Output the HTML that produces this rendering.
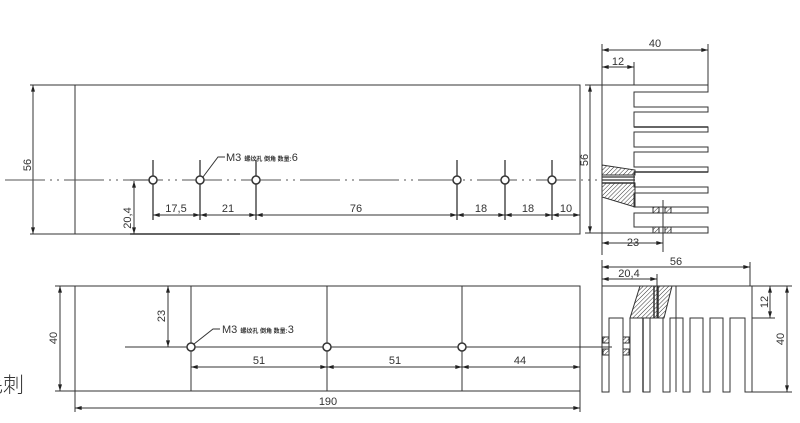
<!DOCTYPE html>
<html><head><meta charset="utf-8"><style>
html,body{margin:0;padding:0;background:#fff;}
svg{display:block;}
text{font-family:"Liberation Sans","Noto Sans CJK SC",sans-serif;fill:#333;}
</style></head><body>
<svg width="800" height="423" viewBox="0 0 800 423" xmlns="http://www.w3.org/2000/svg">
<defs>
<marker id="a" viewBox="0 0 10 6" refX="10" refY="3" markerWidth="8" markerHeight="4" orient="auto-start-reverse"><path d="M0,0L10,3L0,6z" fill="#222"/></marker>
<pattern id="h" width="3" height="3" patternUnits="userSpaceOnUse" patternTransform="rotate(45)"><line x1="0" y1="0" x2="0" y2="3" stroke="#333" stroke-width="1"/></pattern>
</defs>
<g stroke="#333" stroke-width="1" fill="none">
<!-- TOP VIEW -->
<rect x="75" y="85" width="505" height="149"/>
<line x1="30" y1="85" x2="75" y2="85"/><line x1="30" y1="234" x2="75" y2="234"/>
<line x1="33" y1="85" x2="33" y2="234" marker-start="url(#a)" marker-end="url(#a)"/>
<line x1="5" y1="180" x2="597" y2="180" stroke="#555" stroke-dasharray="40,5,2,5,2,5"/>
<g stroke-width="1.3">
<line x1="153" y1="160" x2="153" y2="220"/><line x1="200" y1="160" x2="200" y2="220"/><line x1="256" y1="160" x2="256" y2="220"/>
<line x1="457" y1="160" x2="457" y2="220"/><line x1="505" y1="160" x2="505" y2="220"/><line x1="552" y1="160" x2="552" y2="220"/>
</g>
<g stroke-width="1.5" fill="#fff">
<circle cx="153" cy="180" r="4"/><circle cx="200" cy="180" r="4"/><circle cx="256" cy="180" r="4"/>
<circle cx="457" cy="180" r="4"/><circle cx="505" cy="180" r="4"/><circle cx="552" cy="180" r="4"/>
</g>
<line x1="153" y1="215" x2="200" y2="215" marker-start="url(#a)" marker-end="url(#a)"/>
<line x1="200" y1="215" x2="256" y2="215" marker-start="url(#a)" marker-end="url(#a)"/>
<line x1="256" y1="215" x2="457" y2="215" marker-start="url(#a)" marker-end="url(#a)"/>
<line x1="457" y1="215" x2="505" y2="215" marker-start="url(#a)" marker-end="url(#a)"/>
<line x1="505" y1="215" x2="552" y2="215" marker-start="url(#a)" marker-end="url(#a)"/>
<line x1="552" y1="215" x2="580" y2="215" marker-start="url(#a)" marker-end="url(#a)"/>
<line x1="130" y1="180" x2="150" y2="180"/>
<line x1="134" y1="181" x2="134" y2="234" marker-start="url(#a)" marker-end="url(#a)"/>
<line x1="130" y1="234" x2="240" y2="234" stroke-width="1.4"/>
<polyline points="203,177 218,157 225,157"/>

<!-- TOP RIGHT SIDE VIEW -->
<line x1="602" y1="44" x2="602" y2="255"/>
<line x1="708" y1="44" x2="708" y2="85"/>
<line x1="634" y1="62" x2="634" y2="85"/>
<line x1="602" y1="50" x2="708" y2="50" marker-start="url(#a)" marker-end="url(#a)"/>
<line x1="602" y1="67" x2="634" y2="67" marker-start="url(#a)" marker-end="url(#a)"/>
<line x1="585" y1="85" x2="602" y2="85"/><line x1="585" y1="233" x2="602" y2="233"/>
<line x1="590" y1="85" x2="590" y2="233" marker-start="url(#a)" marker-end="url(#a)"/>
<path d="M602,85 H708 V92 H634 V107 H708 V112 H634 V127 H708 V132 H634 V147 H708 V152 H634 V167 H708 V172 H634 V187 H708 V193 H634 V207 H708 V213 H634 V227 H708 V233 H602"/>
<polygon points="602,165 635,170 635,175 602,175" fill="url(#h)" stroke="#333"/>
<polygon points="602,183 635,183 635,207 602,197" fill="url(#h)" stroke="#333"/>
<line x1="602" y1="177" x2="635" y2="177" stroke-width="1.2"/>
<line x1="602" y1="180" x2="635" y2="180" stroke-width="1.2"/>
<line x1="602" y1="183" x2="635" y2="183" stroke-width="1.5"/>
<line x1="634" y1="172" x2="708" y2="172" stroke-width="1.5"/>
<line x1="634" y1="127" x2="708" y2="127" stroke-width="1.5"/>
<line x1="663" y1="200" x2="663" y2="252"/>
<rect x="653" y="207" width="6" height="6" fill="url(#h)"/><rect x="665" y="207" width="6" height="6" fill="url(#h)"/>
<rect x="653" y="227" width="6" height="6" fill="url(#h)"/><rect x="665" y="227" width="6" height="6" fill="url(#h)"/>
<line x1="602" y1="243" x2="663" y2="243" marker-start="url(#a)" marker-end="url(#a)"/>

<!-- BOTTOM RIGHT VIEW -->
<line x1="602" y1="260" x2="602" y2="392"/>
<line x1="750" y1="262" x2="750" y2="286"/>
<line x1="657" y1="274" x2="657" y2="318"/>
<line x1="602" y1="267" x2="750" y2="267" marker-start="url(#a)" marker-end="url(#a)"/>
<line x1="602" y1="279" x2="657" y2="279" marker-start="url(#a)" marker-end="url(#a)"/>
<line x1="602" y1="286" x2="792" y2="286"/>
<path d="M602,286 V392 H609 V318 H623 V392 H630 V318 H643 V392 H650 V318 H663 V392 H670 V318 H683 V392 H690 V318 H703 V392 H710 V318 H723 V392 H730 V318 H745 V392 H752 V286"/>
<line x1="752" y1="318" x2="775" y2="318"/><line x1="752" y1="392" x2="792" y2="392"/>
<line x1="770" y1="286" x2="770" y2="318" marker-start="url(#a)" marker-end="url(#a)"/>
<line x1="787" y1="286" x2="787" y2="392" marker-start="url(#a)" marker-end="url(#a)"/>
<polygon points="640,286 672,286 664,318 630,318" fill="url(#h)"/>
<line x1="654" y1="286" x2="654" y2="318" stroke-width="1.5"/><line x1="658" y1="286" x2="658" y2="318" stroke-width="1.5"/>
<line x1="643" y1="318" x2="643" y2="392" stroke-width="1.4"/>
<line x1="676" y1="286" x2="676" y2="392"/>
<rect x="603" y="337" width="6" height="6" fill="url(#h)"/><rect x="603" y="349" width="6" height="6" fill="url(#h)"/>
<rect x="623" y="337" width="6" height="6" fill="url(#h)"/><rect x="623" y="349" width="6" height="6" fill="url(#h)"/>

<!-- BOTTOM LEFT VIEW -->
<rect x="75" y="286" width="505" height="105"/>
<line x1="55" y1="286" x2="75" y2="286"/><line x1="55" y1="391" x2="75" y2="391"/>
<line x1="60" y1="286" x2="60" y2="391" marker-start="url(#a)" marker-end="url(#a)"/>
<line x1="191" y1="286" x2="191" y2="391"/><line x1="327" y1="286" x2="327" y2="391"/><line x1="462" y1="286" x2="462" y2="391"/>
<line x1="125" y1="347" x2="612" y2="347"/>
<g stroke-width="1.5" fill="#fff"><circle cx="191" cy="347" r="4"/><circle cx="327" cy="347" r="4"/><circle cx="462" cy="347" r="4"/></g>
<line x1="165" y1="286" x2="191" y2="286"/>
<line x1="168" y1="286" x2="168" y2="347" marker-start="url(#a)" marker-end="url(#a)"/>
<line x1="191" y1="367" x2="327" y2="367" marker-start="url(#a)" marker-end="url(#a)"/>
<line x1="327" y1="367" x2="462" y2="367" marker-start="url(#a)" marker-end="url(#a)"/>
<line x1="462" y1="367" x2="580" y2="367" marker-start="url(#a)" marker-end="url(#a)"/>
<line x1="75" y1="391" x2="75" y2="412"/><line x1="580" y1="391" x2="580" y2="412"/>
<line x1="75" y1="408" x2="580" y2="408" marker-start="url(#a)" marker-end="url(#a)"/>
<polyline points="194,344 213,329 220,329"/>
</g>

<g font-size="11" text-anchor="middle">
<text x="31" y="165" transform="rotate(-90 31 165)">56</text>
<text x="176" y="212">17,5</text><text x="228" y="212">21</text><text x="356" y="212">76</text>
<text x="481" y="212">18</text><text x="528" y="212">18</text><text x="566" y="212">10</text>
<text x="131" y="218" transform="rotate(-90 131 218)">20,4</text>
<text x="655" y="47">40</text><text x="618" y="65">12</text>
<text x="588" y="160" transform="rotate(-90 588 160)">56</text>
<text x="633" y="246">23</text>
<text x="676" y="265">56</text><text x="629" y="277">20,4</text>
<text x="768" y="302" transform="rotate(-90 768 302)">12</text>
<text x="784" y="339" transform="rotate(-90 784 339)">40</text>
<text x="57" y="338" transform="rotate(-90 57 338)">40</text>
<text x="165" y="316" transform="rotate(-90 165 316)">23</text>
<text x="259" y="364">51</text><text x="395" y="364">51</text><text x="520" y="364">44</text>
<text x="328" y="405">190</text>
</g>
<g font-size="11">
<text x="226" y="161">M3 <tspan font-size="6" font-weight="bold">螺纹孔 倒角 数量:</tspan>6</text>
<text x="222" y="333">M3 <tspan font-size="6" font-weight="bold">螺纹孔 倒角 数量:</tspan>3</text>
</g>
<text x="-18" y="392" font-size="21" font-family="'Noto Sans CJK SC',sans-serif" style="font-weight:300">毛刺</text>
</svg>
</body></html>
